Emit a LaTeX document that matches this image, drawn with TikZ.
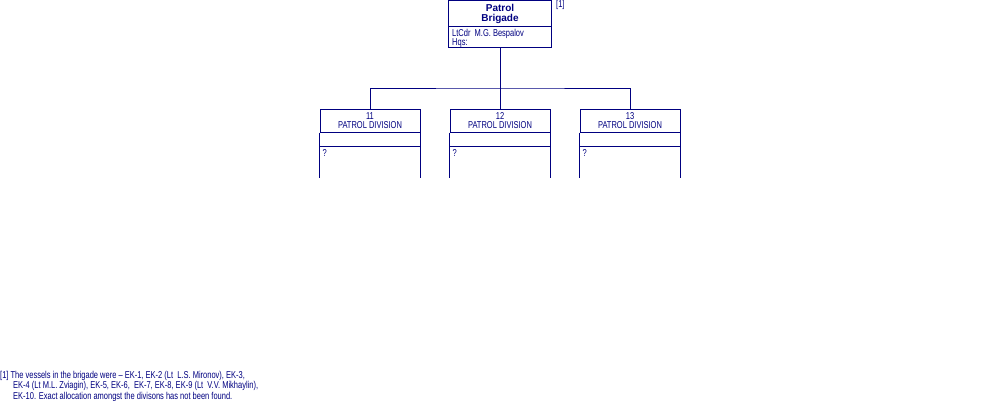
\documentclass[tikz,border=0pt]{standalone}
\usepackage{fontspec}
\setmainfont{Liberation Sans}[FakeStretch=0.75]
\newfontfamily\titlefont{Liberation Sans}
\usetikzlibrary{positioning}
\definecolor{navy}{RGB}{0,0,128}

\begin{document}
\begin{tikzpicture}[x=1pt,y=-1pt,
    orgline/.style={draw=navy, line width=1pt},
    brigbox/.style={orgline, minimum width=103pt, minimum height=47pt, inner sep=0pt},
    divbox/.style={orgline, minimum width=100pt, minimum height=23pt, inner sep=0pt,
      align=center, text=navy, font=\fontsize{10}{9}\selectfont},
    smalltext/.style={text=navy, inner sep=0pt, font=\fontsize{10}{9}\selectfont}]
  \useasboundingbox (0,0) rectangle (1000,400);

  % brigade
  \node[brigbox] (brig) at (500,24) {};
  \draw[orgline] ([yshift=-26pt]brig.north west) -- ([yshift=-26pt]brig.north east);
  \node[text=navy, align=center, inner sep=0pt,
    font=\titlefont\bfseries\fontsize{10}{10}\selectfont] (brigname) at (500,13.5) {Patrol\\Brigade};
  \node[smalltext, align=left, anchor=north west] (brigcdr) at (452,29) {LtCdr~~M.G. Bespalov\\Hqs:};
  \node[smalltext, anchor=west] (brignote) at (556,4.5) {[1]};

  % divisions
  \node[divbox] (div11) at (370,120.5) {11\\PATROL DIVISION};
  \node[divbox] (div12) at (500,120.5) {12\\PATROL DIVISION};
  \node[divbox] (div13) at (630,120.5) {13\\PATROL DIVISION};
  \foreach \d in {div11,div12,div13}{
    \draw[orgline] (\d.south west) -- ++(0,45);
    \draw[orgline] (\d.south east) -- ++(0,45);
    \draw[orgline] ([yshift=-14pt]\d.south west) -- ([yshift=-14pt]\d.south east);
    \node[smalltext, anchor=west] at ([xshift=3pt,yshift=-21pt]\d.south west) {?};
  }

  % connectors
  \coordinate (hub) at (500,88);
  \draw[orgline] (brig.south) -- (div12.north);
  \draw[orgline] (div11.north) |- (hub) -| (div13.north);

  % footnote
  \node[smalltext, align=left, anchor=north west] (note) at (0,371)
    {[1] The vessels in the brigade were -- EK-1, EK-2 (Lt~~L.S. Mironov), EK-3,\\
     \hspace*{13pt}EK-4 (Lt M.L. Zviagin), EK-5, EK-6,~~EK-7, EK-8, EK-9 (Lt~~V.V. Mikhaylin),\\
     \hspace*{13pt}EK-10. Exact allocation amongst the divisons has not been found.};
\end{tikzpicture}
\end{document}
